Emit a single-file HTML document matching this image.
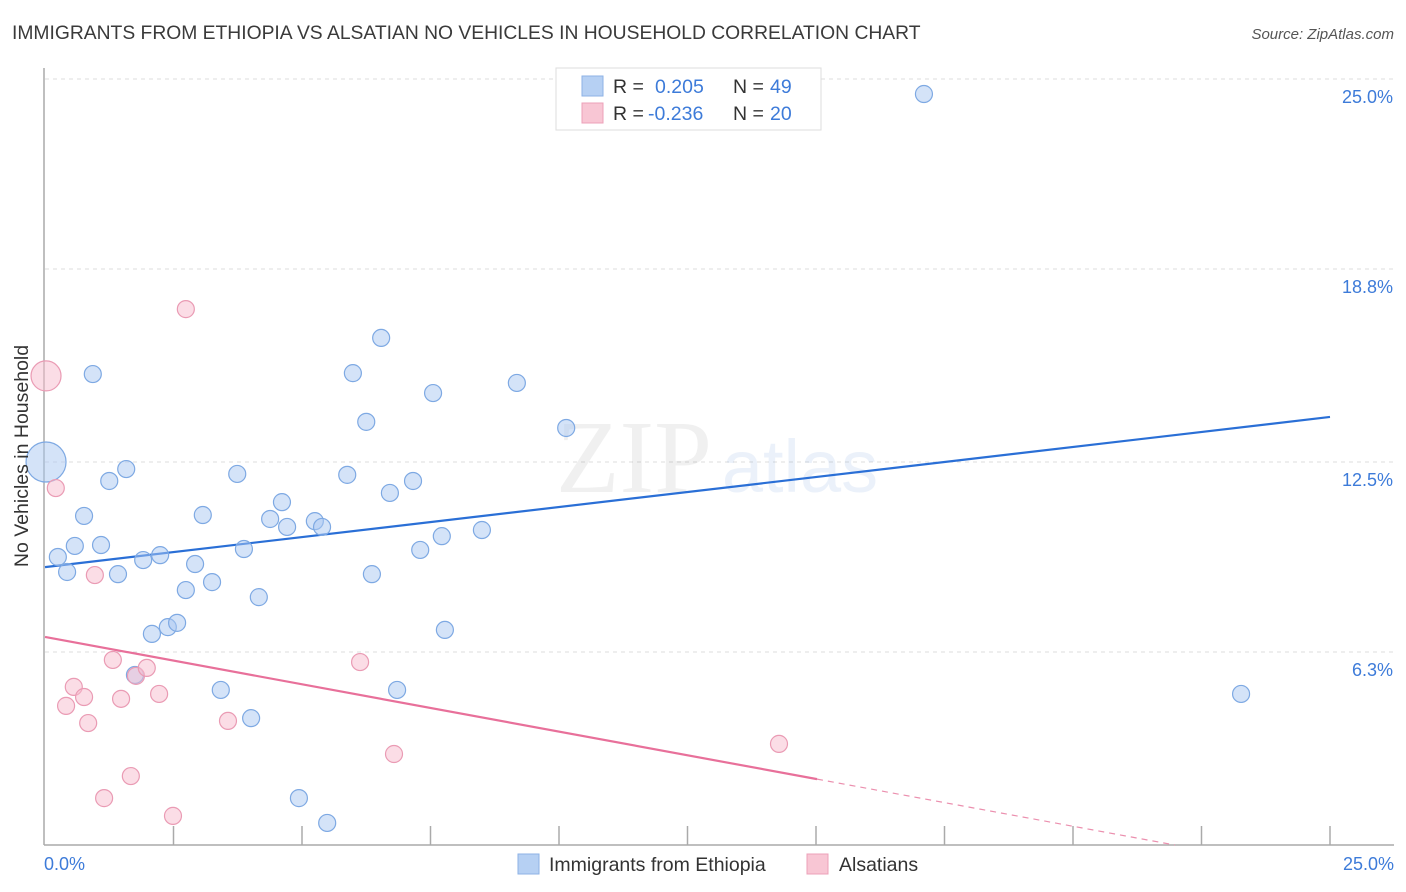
<!DOCTYPE html>
<html><head><meta charset="utf-8"><style>
body{margin:0;background:#fff;font-family:"Liberation Sans",sans-serif;}
svg{display:block}
</style></head><body>
<svg id="chart" width="1406" height="892" viewBox="0 0 1406 892">
<text x="12" y="39" font-size="19.3" fill="#3a3a3a">IMMIGRANTS FROM ETHIOPIA VS ALSATIAN NO VEHICLES IN HOUSEHOLD CORRELATION CHART</text>
<text x="1394" y="39" font-size="15" font-style="italic" fill="#555" text-anchor="end">Source: ZipAtlas.com</text>
<g id="grid"></g>
<g opacity="0.10">
<text x="634" y="492" font-family="Liberation Serif,serif" font-size="104" fill="#777" text-anchor="middle">ZIP</text>
<text x="800" y="492" font-size="74" fill="#4a7fd0" text-anchor="middle">atlas</text>
</g>
<g id="axes"></g>
<g id="trends"></g>
<g id="points"></g>
<text transform="translate(34,456) rotate(-90)" font-size="19.5" fill="#333" text-anchor="middle" dy="-6">No Vehicles in Household</text>
<g>
<rect x="556" y="68" width="265" height="62" fill="#fff" stroke="#ddd"/>
<rect x="582" y="76" width="21" height="20" fill="#b6d0f3" stroke="#8db2e6"/>
<rect x="582" y="103" width="21" height="20" fill="#f8c6d4" stroke="#eca0b8"/>
<text x="613" y="93" font-size="19.5" fill="#333">R =</text>
<text x="655" y="93" font-size="19.5" fill="#3d7bd9">0.205</text>
<text x="733" y="93" font-size="19.5" fill="#333">N =</text>
<text x="770" y="93" font-size="19.5" fill="#3d7bd9">49</text>
<text x="613" y="120" font-size="19.5" fill="#333">R =</text>
<text x="648" y="120" font-size="19.5" fill="#3d7bd9">-0.236</text>
<text x="733" y="120" font-size="19.5" fill="#333">N =</text>
<text x="770" y="120" font-size="19.5" fill="#3d7bd9">20</text>
</g>
<g>
<rect x="518" y="854" width="21" height="20" fill="#b6d0f3" stroke="#8db2e6"/>
<text x="549" y="871" font-size="19.5" fill="#333">Immigrants from Ethiopia</text>
<rect x="807" y="854" width="21" height="20" fill="#f8c6d4" stroke="#eca0b8"/>
<text x="839" y="871" font-size="19.5" fill="#333">Alsatians</text>
</g>
</svg>
<script>
const blueX=[0.02,0.25,0.43,0.58,0.76,0.93,1.09,1.25,1.42,1.58,1.91,2.08,2.24,2.39,2.57,2.74,2.92,3.07,3.25,3.42,3.74,3.87,4.01,4.16,4.38,4.61,4.71,4.94,5.25,5.39,5.49,5.88,5.99,6.25,6.36,6.54,6.71,6.85,7.16,7.30,7.55,7.72,7.78,8.50,9.18,10.14,17.10,23.27,1.75];
const blueY=[12.50,9.40,8.91,9.76,10.74,15.37,9.79,11.88,8.84,12.27,9.30,6.89,9.46,7.11,7.25,8.32,9.17,10.77,8.58,5.06,12.11,9.66,4.14,8.09,10.64,11.19,10.38,1.53,10.57,10.38,0.72,12.08,15.40,13.81,8.84,16.55,11.49,5.06,11.88,9.63,14.75,10.08,7.02,10.28,15.08,13.61,24.51,4.93,5.55];
const blueBig=[0];
const pinkX=[0.02,0.21,0.41,0.56,0.76,0.84,0.97,1.15,1.32,1.48,1.67,1.77,1.98,2.22,2.49,2.74,3.56,6.13,6.79,14.28];
const pinkY=[15.31,11.65,4.54,5.16,4.83,3.98,8.81,1.53,6.04,4.77,2.25,5.52,5.78,4.93,0.95,17.49,4.05,5.97,2.97,3.30];
const pinkBig=[0];
const blueTrend=[9.07,13.97];
const pinkTrend=[6.79,2.15];
const pinkTrendEnd=15.02;
const yTicks=[6.3,12.5,18.8,25.0];
const yTickLabels=["6.3%","12.5%","18.8%","25.0%"];
const xTickCount=10;

const NS="http://www.w3.org/2000/svg";
const X0=45,X1=1330,Y0=845,Y1=79;
const sx=v=>X0+(v/25)*(X1-X0);
const sy=v=>Y0-(v/25)*(Y0-Y1);
function mk(tag,attrs,parent){const e=document.createElementNS(NS,tag);for(const k in attrs)e.setAttribute(k,attrs[k]);parent.appendChild(e);return e;}
const grid=document.getElementById('grid'),axes=document.getElementById('axes'),trends=document.getElementById('trends'),pts=document.getElementById('points');
yTicks.forEach((t,i)=>{
 const l=mk('line',{x1:45,x2:1394,y1:sy(t),y2:sy(t),stroke:'#dcdcdc','stroke-dasharray':'4,4'},grid);
 
 
 const tx=mk('text',{x:1393,y:sy(t)+24,'font-size':18,fill:'#3d7bd9','text-anchor':'end'},axes);
 tx.textContent=yTickLabels[i];
 
 
});
const ax=mk('line',{x1:44,x2:1394,y1:845,y2:845,stroke:'#aaa','stroke-width':1.5},axes);


const ay=mk('line',{x1:44,x2:44,y1:68,y2:845,stroke:'#aaa','stroke-width':1.5},axes);


for(let i=1;i<=xTickCount;i++){
 const x=sx(25*i/xTickCount);
 const t=mk('line',{x1:x,x2:x,y1:826,y2:845,stroke:'#aaa','stroke-width':1.5},axes);
 
 
}
const xl0=mk('text',{x:44,y:870,'font-size':18,fill:'#3d7bd9'},axes);xl0.textContent='0.0%';


const xl1=mk('text',{x:1394,y:870,'font-size':18,fill:'#3d7bd9','text-anchor':'end'},axes);xl1.textContent='25.0%';



const bt=mk('line',{x1:sx(0),y1:sy(blueTrend[0]),x2:sx(25),y2:sy(blueTrend[1]),stroke:'#2a6fd6','stroke-width':2.2},trends);


const slope=(pinkTrend[1]-pinkTrend[0])/pinkTrendEnd;
const pt=mk('line',{x1:sx(0),y1:sy(pinkTrend[0]),x2:sx(pinkTrendEnd),y2:sy(pinkTrend[1]),stroke:'#e8709a','stroke-width':2.2},trends);


const xz=-pinkTrend[0]/slope;
const pd=mk('line',{x1:sx(pinkTrendEnd),y1:sy(pinkTrend[1]),x2:sx(xz),y2:sy(0),stroke:'#eb8fae','stroke-width':1.2,'stroke-dasharray':'6,5'},trends);



blueX.forEach((x,i)=>{
 const c=mk('circle',{cx:sx(x),cy:sy(blueY[i]),r:blueBig.includes(i)?20:8.5,fill:'rgba(170,200,242,0.5)',stroke:'#7ea9e3','stroke-width':1.2},pts);
 
 
});
pinkX.forEach((x,i)=>{
 const c=mk('circle',{cx:sx(x),cy:sy(pinkY[i]),r:pinkBig.includes(i)?15:8.5,fill:'rgba(247,188,206,0.5)',stroke:'#ea9bb4','stroke-width':1.2},pts);
 
 
});
</script>
</body></html>
